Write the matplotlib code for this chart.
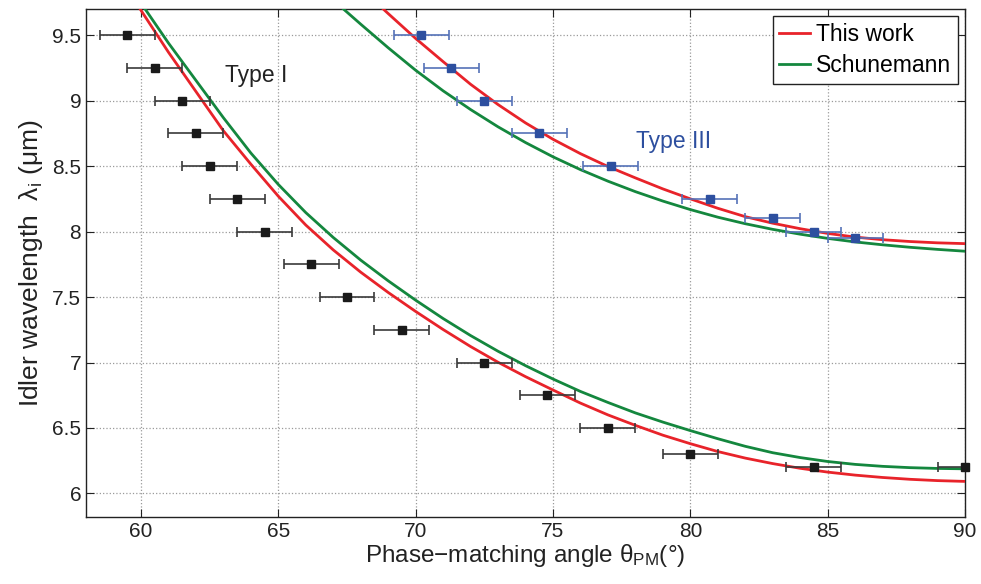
import matplotlib
matplotlib.use("Agg")
import matplotlib.pyplot as plt

plt.rcParams['font.family'] = ['Liberation Sans', 'DejaVu Sans']
plt.rcParams['mathtext.fontset'] = 'custom'
plt.rcParams['mathtext.rm'] = 'Liberation Sans'
plt.rcParams['mathtext.it'] = 'Liberation Sans:italic'

# ---- data ----
type1_angle = [59.5, 60.5, 61.5, 62.0, 62.5, 63.5, 64.5, 66.2, 67.5, 69.5, 72.5, 74.8, 77.0, 80.0, 84.5, 90.0]
type1_lambda = [9.5, 9.25, 9.0, 8.75, 8.5, 8.25, 8.0, 7.75, 7.5, 7.25, 7.0, 6.75, 6.5, 6.3, 6.2, 6.2]
type1_err = [1.0] * len(type1_angle)

type3_angle = [70.2, 71.3, 72.5, 74.5, 77.1, 80.7, 83.0, 84.5, 86.0]
type3_lambda = [9.5, 9.25, 9.0, 8.75, 8.5, 8.25, 8.1, 8.0, 7.95]
type3_err = [1.0] * len(type3_angle)

# "This work" curves
tw1_angle = [59.97, 60, 61, 62, 63, 64, 65, 66, 67, 68, 69, 70, 71, 72, 73, 74, 75,
             76, 77, 78, 79, 80, 81, 82, 83, 84, 85, 86, 87, 88, 89, 90]
tw1_lambda = [9.70, 9.69, 9.37, 9.07, 8.77, 8.515, 8.27, 8.05, 7.86, 7.69, 7.535, 7.39,
              7.252, 7.122, 7.002, 6.892, 6.79, 6.69, 6.60, 6.52, 6.445, 6.38, 6.32,
              6.27, 6.228, 6.192, 6.163, 6.14, 6.122, 6.108, 6.098, 6.092]
tw3_angle = [68.82, 69, 70, 71, 72, 73, 74, 75, 76, 77, 78, 79, 80, 81, 82, 83, 84, 85,
             86, 87, 88, 89, 90]
tw3_lambda = [9.70, 9.665, 9.475, 9.298, 9.125, 8.97, 8.83, 8.705, 8.595, 8.497, 8.41,
              8.326, 8.25, 8.178, 8.114, 8.064, 8.022, 7.986, 7.958, 7.938, 7.924, 7.914, 7.908]

# Schunemann curves
sc1_angle = [60.15, 61, 62, 63, 64, 65, 66, 67, 68, 69, 70, 71, 72, 73, 74, 75, 76, 77,
             78, 79, 80, 81, 82, 83, 84, 85, 86, 87, 88, 89, 90]
sc1_lambda = [9.70, 9.44, 9.155, 8.87, 8.60, 8.36, 8.145, 7.955, 7.782, 7.624, 7.476,
              7.336, 7.206, 7.086, 6.976, 6.874, 6.779, 6.695, 6.615, 6.545, 6.48, 6.418,
              6.36, 6.311, 6.274, 6.244, 6.222, 6.207, 6.197, 6.191, 6.188]
sc3_angle = [67.37, 68, 69, 70, 71, 72, 73, 74, 75, 76, 77, 78, 79, 80, 81, 82, 83, 84,
             85, 86, 87, 88, 89, 90]
sc3_lambda = [9.70, 9.584, 9.404, 9.232, 9.075, 8.932, 8.80, 8.68, 8.571, 8.473, 8.385,
              8.305, 8.233, 8.168, 8.11, 8.06, 8.017, 7.98, 7.948, 7.921, 7.899, 7.88,
              7.864, 7.85]

x_ticks = [60, 65, 70, 75, 80, 85, 90]
x_ticklabels = ['60', '65', '70', '75', '80', '85', '90']
y_ticks = [6, 6.5, 7, 7.5, 8, 8.5, 9, 9.5]
y_ticklabels = ['6', '6.5', '7', '7.5', '8', '8.5', '9', '9.5']

red = '#e8232a'
green = '#14873e'
blue = '#2d4f9f'
blue_bar = '#5572b8'

fig = plt.figure(figsize=(9.81, 5.84), dpi=100)
ax = fig.add_axes([0.0877, 0.1147, 0.8960, 0.8699])

ax.plot(tw1_angle, tw1_lambda, color=red, lw=2.0, label='This work', zorder=3)
ax.plot(sc1_angle, sc1_lambda, color=green, lw=2.0, label='Schunemann', zorder=3)
ax.plot(tw3_angle, tw3_lambda, color=red, lw=2.0, zorder=3)
ax.plot(sc3_angle, sc3_lambda, color=green, lw=2.0, zorder=3)

ax.errorbar(type1_angle, type1_lambda, xerr=type1_err, fmt='none', ecolor='#3a3a3a',
            elinewidth=1.2, capsize=3.5, capthick=1.2, zorder=4)
ax.plot(type1_angle, type1_lambda, 's', color='#1a1a1a', ms=6, zorder=5, clip_on=False)
ax.errorbar(type3_angle, type3_lambda, xerr=type3_err, fmt='none', ecolor=blue_bar,
            elinewidth=1.2, capsize=3.5, capthick=1.2, zorder=4)
ax.plot(type3_angle, type3_lambda, 's', color=blue, ms=6, zorder=5, clip_on=False)

ax.text(64.2, 9.19, 'Type I', fontsize=16.5, color='#222222', ha='center', va='center')
ax.text(79.4, 8.69, 'Type III', fontsize=16.5, color=blue, ha='center', va='center')

ax.set_xlim(58, 90)
ax.set_ylim(5.82, 9.70)
ax.set_xticks(x_ticks)
ax.set_xticklabels(x_ticklabels)
ax.set_yticks(y_ticks)
ax.set_yticklabels(y_ticklabels)
ax.tick_params(direction='in', top=True, right=True, length=6, width=0.8,
               labelsize=15, colors='#222222')
ax.grid(True, linestyle=':', color='#9a9a9a', linewidth=0.9)
for s in ax.spines.values():
    s.set_linewidth(1.0)
    s.set_color('#222222')

ax.set_xlabel('Phase\u2212matching angle \u03b8$_{\\rm PM}$(\u00b0)', fontsize=17.5, labelpad=1, color='#222222')
ax.set_ylabel('Idler wavelength  \u03bb$_{\\rm i}$ (\u03bcm)', fontsize=19, labelpad=5, color='#222222')

leg = ax.legend(loc='upper right', fontsize=16.5, frameon=True, fancybox=False,
                edgecolor='#222222', framealpha=1, borderaxespad=0.3,
                handlelength=1.35, handletextpad=0.25, borderpad=0.3, labelspacing=0.35)
leg.get_frame().set_linewidth(1.0)

fig.savefig('out.png', dpi=100)
